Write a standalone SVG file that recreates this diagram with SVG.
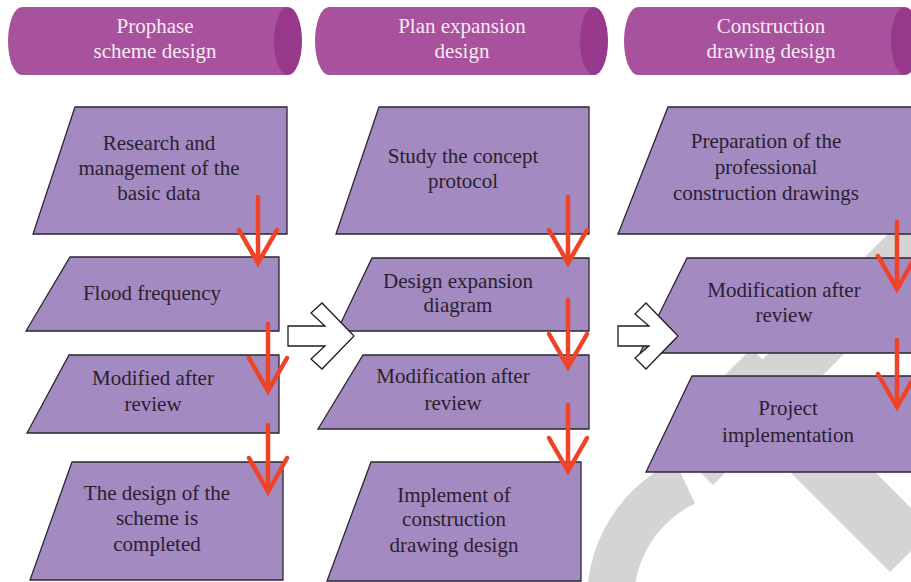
<svg xmlns="http://www.w3.org/2000/svg" width="911" height="582" viewBox="0 0 911 582">
  <defs>
    <style>
      .stage-body { fill: #a8519c; }
      .stage-cap { fill: #97388d; }
      .stage-text { font-family: "Liberation Serif", "Times New Roman", serif; font-size: 21px; fill: #f6eaf3; text-anchor: middle; }
      .step { fill: #a38bc1; stroke: #2b2630; stroke-width: 1.3; stroke-linejoin: miter; }
      .step-text { font-family: "Liberation Serif", "Times New Roman", serif; font-size: 21px; fill: #2a2130; text-anchor: middle; }
      .flow { fill: none; stroke: #ee4327; stroke-width: 4.5; stroke-linecap: round; stroke-linejoin: miter; }
      .jump { fill: #ffffff; stroke: #1e1e1e; stroke-width: 1.3; stroke-linejoin: miter; }
      .mark { fill: #d4d4d4; }
    </style>
  </defs>
  <rect width="911" height="582" fill="#ffffff"/>

  <!-- light grey background mark -->
  <g id="background-mark">
    <path class="mark" d="M 674.9,460.9 A 154,154 0 0 0 589.3,626.7 L 635.6,618.6 A 107,107 0 0 1 695.1,503.4 Z"/>
    <path class="mark" d="M 675,447 L 713,485 L 999,199 L 961,161 Z"/>
    <path class="mark" d="M 709,391 L 890,572 L 932.5,529.5 L 751.5,348.5 Z"/>
  </g>

  <!-- stage headers -->
  <g id="stage-prophase">
    <path class="stage-body" d="M 22,7 H 288 V 75 H 22 A 14,34 0 0 1 22,7 Z"/>
    <ellipse class="stage-cap" cx="288" cy="41" rx="14" ry="34"/>
    <text class="stage-text" x="155" y="33">Prophase</text>
    <text class="stage-text" x="155" y="58">scheme design</text>
  </g>
  <g id="stage-expansion">
    <path class="stage-body" d="M 329,7 H 594 V 75 H 329 A 14,34 0 0 1 329,7 Z"/>
    <ellipse class="stage-cap" cx="594" cy="41" rx="14" ry="34"/>
    <text class="stage-text" x="462" y="33">Plan expansion</text>
    <text class="stage-text" x="462" y="58">design</text>
  </g>
  <g id="stage-construction">
    <path class="stage-body" d="M 638,7 H 905 V 75 H 638 A 14,34 0 0 1 638,7 Z"/>
    <ellipse class="stage-cap" cx="905" cy="41" rx="14" ry="34"/>
    <text class="stage-text" x="771" y="33">Construction</text>
    <text class="stage-text" x="771" y="58">drawing design</text>
  </g>

  <!-- column 1 -->
  <g id="research-basic-data">
    <polygon class="step" points="75,107 287,107 287,234 33,234"/>
    <text class="step-text" x="159" y="150">Research and</text>
    <text class="step-text" x="159" y="175">management of the</text>
    <text class="step-text" x="159" y="200">basic data</text>
  </g>
  <g id="flood-frequency">
    <polygon class="step" points="70,257 279,257 279,331 26,331"/>
    <text class="step-text" x="152" y="300">Flood frequency</text>
  </g>
  <g id="modified-after-review">
    <polygon class="step" points="69,355 279,355 279,433 27,433"/>
    <text class="step-text" x="153" y="385">Modified after</text>
    <text class="step-text" x="153" y="411">review</text>
  </g>
  <g id="scheme-completed">
    <polygon class="step" points="72,462 283,462 283,580 30,580"/>
    <text class="step-text" x="157" y="500">The design of the</text>
    <text class="step-text" x="157" y="525">scheme is</text>
    <text class="step-text" x="157" y="551">completed</text>
  </g>

  <!-- column 2 -->
  <g id="study-concept">
    <polygon class="step" points="379,107 589,107 589,234 336,234"/>
    <text class="step-text" x="463" y="163">Study the concept</text>
    <text class="step-text" x="463" y="188">protocol</text>
  </g>
  <g id="design-expansion-diagram">
    <polygon class="step" points="372,258 589,258 589,331 337,331"/>
    <text class="step-text" x="458" y="288">Design expansion</text>
    <text class="step-text" x="458" y="312">diagram</text>
  </g>
  <g id="modification-review-2">
    <polygon class="step" points="363,355 589,355 589,429 318,429"/>
    <text class="step-text" x="453" y="383">Modification after</text>
    <text class="step-text" x="453" y="410">review</text>
  </g>
  <g id="implement-construction">
    <polygon class="step" points="371,462 581,462 581,581 327,581"/>
    <text class="step-text" x="454" y="502">Implement of</text>
    <text class="step-text" x="454" y="526">construction</text>
    <text class="step-text" x="454" y="552">drawing design</text>
  </g>

  <!-- column 3 -->
  <g id="prepare-drawings">
    <polygon class="step" points="668,107 930,107 930,234 618,234"/>
    <text class="step-text" x="766" y="148">Preparation of the</text>
    <text class="step-text" x="766" y="174">professional</text>
    <text class="step-text" x="766" y="200">construction drawings</text>
  </g>
  <g id="modification-review-3">
    <polygon class="step" points="687,258 930,258 930,353 640,353"/>
    <text class="step-text" x="784" y="297">Modification after</text>
    <text class="step-text" x="784" y="322">review</text>
  </g>
  <g id="project-implementation">
    <polygon class="step" points="692,376 930,376 930,472 646,472"/>
    <text class="step-text" x="788" y="415">Project</text>
    <text class="step-text" x="788" y="442">implementation</text>
  </g>

  <!-- connectors -->
  <g id="connectors">
    <path class="flow" d="M258,197 V263 M239,230 L258,263 L277,230"/>
    <path class="flow" d="M268,324 V391 M249,358 L268,391 L287,358"/>
    <path class="flow" d="M268,425 V492 M249,458 L268,492 L287,458"/>
    <path class="flow" d="M568,197 V263 M549,230 L568,263 L587,230"/>
    <path class="flow" d="M568,300 V367 M549,334 L568,367 L587,334"/>
    <path class="flow" d="M568,405 V471 M549,438 L568,471 L587,438"/>
    <path class="flow" d="M897,222 V289 M878,256 L897,289 L916,256"/>
    <path class="flow" d="M897,340 V407 M878,374 L897,407 L916,374"/>
    <polygon class="jump" points="288,326 325,326 311,313 322,303 354,336 322,369 311,359 325,346 288,346"/>
    <polygon class="jump" points="618,326 649,326 635,314 646,303 678,336 646,369 635,358 649,346 618,346"/>
  </g>
</svg>
